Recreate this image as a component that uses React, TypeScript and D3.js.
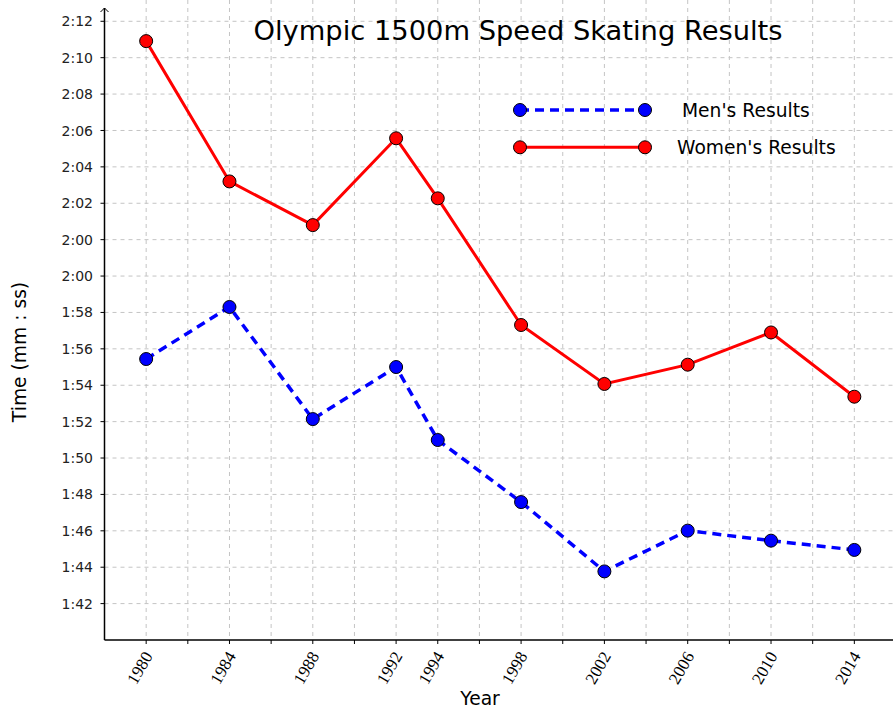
import React from "react";
import * as d3 from "d3";

const years = [1980, 1984, 1988, 1992, 1994, 1998, 2002, 2006, 2010, 2014];
const menTimes = [115.44, 118.3, 112.14, 115.0, 110.99, 107.58, 103.77, 106.01, 105.46, 104.95];
const womenTimes = [132.91, 125.2, 122.8, 127.57, 124.27, 117.31, 114.07, 115.13, 116.9, 113.37];
const yTickValues = [102, 104, 106, 108, 110, 112, 114, 116, 118, 120, 122, 124, 126, 128, 130, 132, 134];
const yTickLabels = ["1:42", "1:44", "1:46", "1:48", "1:50", "1:52", "1:54", "1:56", "1:58", "2:00", "2:00", "2:02", "2:04", "2:06", "2:08", "2:10", "2:12"];
const xGridYears = d3.range(1980, 2017, 2);
const seriesNames = ["Men's Results", "Women's Results"];

const W = 893;
const H = 712;

export default function App() {
  const x = d3.scaleLinear().domain([1978, 2016]).range([104.5, 896]);
  const y = d3.scaleLinear().domain([100, 134.73]).range([640, 8]);
  const line = d3
    .line<[number, number]>()
    .x((d) => x(d[0]))
    .y((d) => y(d[1]));
  const men: [number, number][] = years.map((yr, i) => [yr, menTimes[i]]);
  const women: [number, number][] = years.map((yr, i) => [yr, womenTimes[i]]);
  const x0 = x(1978);
  const yBottom = y(100);
  const yTop = 8;
  const gridColor = "#c4c4c4";

  const series = [
    { name: seriesNames[0], data: men, color: "#0000ff", dash: "9,6", width: 3.5 },
    { name: seriesNames[1], data: women, color: "#ff0000", dash: undefined, width: 3 },
  ];

  return (
    <svg
      width={W}
      height={H}
      style={{ position: "fixed", left: 0, top: 0, background: "#fff" }}
    >
      <rect x={0} y={0} width={W} height={H} fill="#fff" />
      <g>
        {yTickValues.map((v) => (
          <line
            key={"hg" + v}
            x1={x0}
            x2={W}
            y1={y(v)}
            y2={y(v)}
            stroke={gridColor}
            strokeWidth={1}
            strokeDasharray="4,4"
          />
        ))}
        {xGridYears.map((yr) => (
          <line
            key={"vg" + yr}
            x1={x(yr)}
            x2={x(yr)}
            y1={0}
            y2={yBottom}
            stroke={gridColor}
            strokeWidth={1}
            strokeDasharray="4,4"
          />
        ))}
      </g>
      <text
        x={518}
        y={40}
        textAnchor="middle"
        fontFamily="DejaVu Sans, sans-serif"
        fontSize={27.3}
        fill="#000"
      >
        Olympic 1500m Speed Skating Results
      </text>
      {series.map((s) => (
        <g key={s.name}>
          <path
            d={line(s.data) || ""}
            fill="none"
            stroke={s.color}
            strokeWidth={s.width}
            strokeDasharray={s.dash}
          />
          {s.data.map((d, i) => (
            <circle
              key={i}
              cx={x(d[0])}
              cy={y(d[1])}
              r={6.5}
              fill={s.color}
              stroke="#000"
              strokeWidth={1}
            />
          ))}
        </g>
      ))}
      {series.map((s, i) => {
        const ly = 110 + i * 37.3;
        return (
          <g key={"lg" + s.name}>
            <line
              x1={520}
              x2={645}
              y1={ly}
              y2={ly}
              stroke={s.color}
              strokeWidth={s.width}
              strokeDasharray={s.dash}
            />
            <circle cx={520} cy={ly} r={6.5} fill={s.color} stroke="#000" strokeWidth={1} />
            <circle cx={645} cy={ly} r={6.5} fill={s.color} stroke="#000" strokeWidth={1} />
            <text
              x={i === 0 ? 682 : 677}
              y={ly + 6.5}
              fontFamily="DejaVu Sans, sans-serif"
              fontSize={18.7}
              fill="#000"
            >
              {s.name}
            </text>
          </g>
        );
      })}
      <g>
        <line x1={x0} x2={x0} y1={yTop} y2={yBottom} stroke="#000" strokeWidth={1.5} />
        <path
          d={`M${x0 - 4},${yTop + 4} L${x0},${yTop} L${x0 + 4},${yTop + 4}`}
          fill="none"
          stroke="#000"
          strokeWidth={1}
        />
        <line x1={x0} x2={W} y1={yBottom} y2={yBottom} stroke="#000" strokeWidth={1.5} />
        {yTickValues.map((v, i) => (
          <g key={"yt" + v}>
            <line x1={x0 - 4} x2={x0} y1={y(v)} y2={y(v)} stroke="#000" strokeWidth={1} />
            <text
              x={93}
              y={y(v)}
              dy="0.36em"
              textAnchor="end"
              fontFamily="DejaVu Sans, sans-serif"
              fontSize={14}
              fill="#222"
            >
              {yTickLabels[i]}
            </text>
          </g>
        ))}
        {xGridYears.map((yr) => (
          <line
            key={"xt" + yr}
            x1={x(yr)}
            x2={x(yr)}
            y1={yBottom}
            y2={yBottom + 4}
            stroke="#000"
            strokeWidth={1}
          />
        ))}
        {years.map((yr) => (
          <text
            key={"xl" + yr}
            transform={`translate(${x(yr) + 7},${656}) rotate(-60)`}
            textAnchor="end"
            fontFamily="Liberation Serif, serif"
            fontSize={17}
            fill="#000"
          >
            {yr}
          </text>
        ))}
        <text
          x={480}
          y={705}
          textAnchor="middle"
          fontFamily="DejaVu Sans, sans-serif"
          fontSize={18.7}
          fill="#000"
        >
          Year
        </text>
        <text
          transform={`translate(26,352) rotate(-90)`}
          textAnchor="middle"
          fontFamily="DejaVu Sans, sans-serif"
          fontSize={18.7}
          fill="#000"
        >
          Time (mm : ss)
        </text>
      </g>
    </svg>
  );
}
